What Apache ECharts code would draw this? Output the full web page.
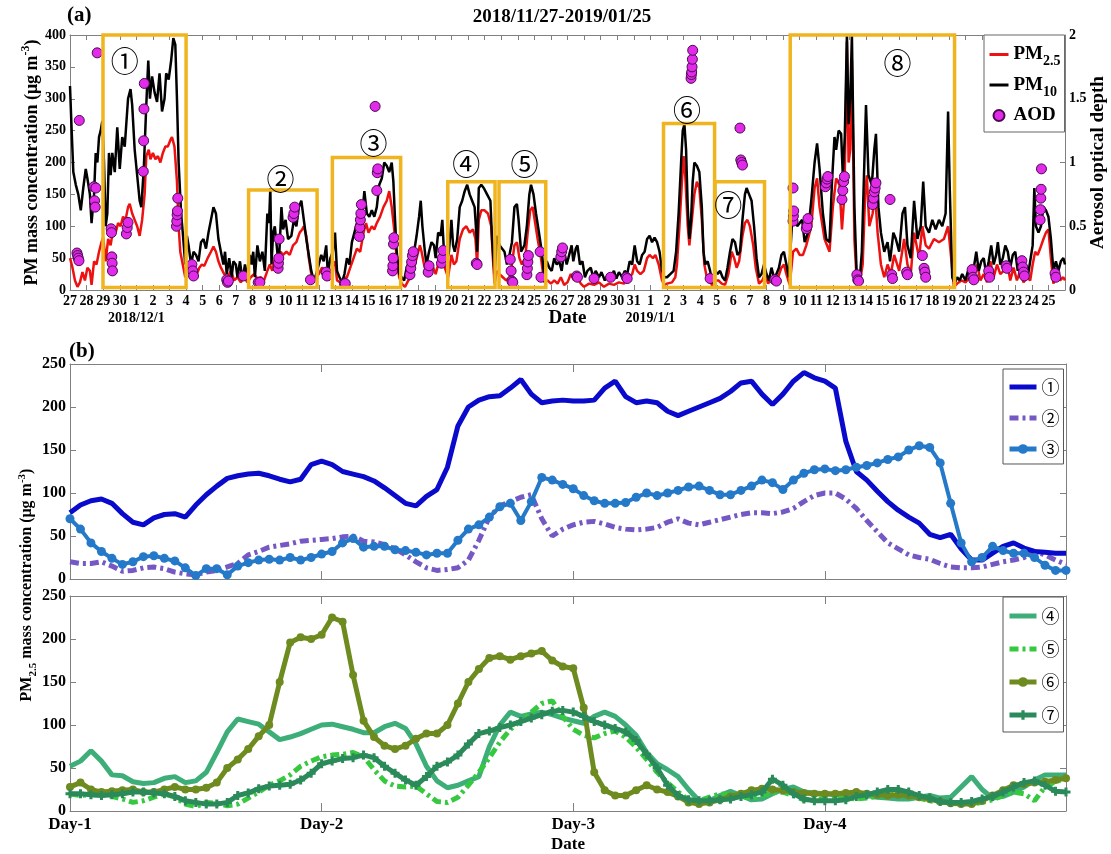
<!DOCTYPE html>
<html>
<head>
<meta charset="utf-8">
<title>PM and AOD episodes, 2018/11/27-2019/01/25</title>
<script src="https://cdn.jsdelivr.net/npm/echarts@6/dist/echarts.min.js"></script>
<style>
  html, body { margin: 0; padding: 0; background: #fff; }
  #chart { width: 1111px; height: 854px; }
</style>
</head>
<body>
<div id="chart"></div>
<script>
// ---------- Panel (a): hourly-resolved PM and AOD, x = days since 2018-11-27 00:00 ----------
const dateLabels = ['27','28','29','30',
  '1','2','3','4','5','6','7','8','9','10','11','12','13','14','15','16','17','18','19','20','21','22','23','24','25','26','27','28','29','30','31',
  '1','2','3','4','5','6','7','8','9','10','11','12','13','14','15','16','17','18','19','20','21','22','23','24','25'];
const monthMarks = { 4: '2018/12/1', 35: '2019/1/1' };

const pm10 = [[0,320],[0.1,250],[0.2,185],[0.35,165],[0.5,150],[0.65,125],[0.8,160],[0.95,190],[1.05,175],[1.2,150],[1.3,105],[1.45,150],[1.55,215],[1.65,200],[1.75,240],[1.85,250],[1.95,265],[2.05,200],[2.15,100],
  [2.25,120],[2.35,215],[2.45,180],[2.55,215],[2.7,185],[2.85,255],[3.0,190],[3.15,240],[3.3,225],[3.5,300],[3.65,315],[3.75,290],[3.9,220],[4.05,180],[4.2,140],[4.3,130],[4.45,190],[4.6,290],[4.72,360],[4.82,300],[4.95,335],[5.1,310],[5.25,295],[5.4,340],[5.55,280],[5.7,300],[5.8,340],[5.95,330],[6.1,360],[6.23,395],[6.35,385],[6.45,300],[6.55,200],[6.7,120],[6.8,90],[6.95,40],
  [7.05,85],[7.15,70],[7.3,40],[7.45,60],[7.6,55],[7.75,45],[7.9,75],[8.05,80],[8.2,65],[8.35,90],[8.5,110],[8.65,130],[8.8,120],[8.95,80],[9.1,60],[9.25,40],[9.35,60],[9.45,25],[9.6,50],[9.75,20],[9.85,45],[10.0,40],[10.1,20],[10.25,45],[10.4,15],[10.55,40],[10.7,20],[10.85,55],
  [10.95,40],[11.05,60],[11.15,20],[11.3,70],[11.45,45],[11.6,60],[11.75,30],[11.9,120],[12.0,105],[12.08,160],[12.15,40],[12.25,90],[12.35,100],[12.5,60],[12.6,45],[12.75,130],[12.85,95],[13.0,110],[13.15,80],[13.35,85],[13.5,110],[13.65,100],[13.8,130],[13.95,140],[14.1,110],[14.25,80],[14.4,55],[14.55,30],[14.7,15],[14.85,25],
  [15.0,40],[15.15,55],[15.3,45],[15.45,70],[15.55,25],[15.7,50],[15.85,60],[15.98,90],[16.1,30],[16.25,20],[16.4,12],[16.55,25],[16.7,50],[16.85,40],[17.0,75],[17.15,90],[17.3,105],[17.45,90],[17.6,110],[17.75,155],[17.9,120],[18.05,115],[18.2,125],[18.35,115],[18.5,130],[18.65,165],[18.8,175],[18.95,200],[19.1,195],[19.25,185],[19.4,200],[19.5,170],[19.6,110],[19.7,60],[19.85,25],
  [20.0,20],[20.15,15],[20.3,35],[20.45,45],[20.6,55],[20.75,60],[20.9,85],[21.05,115],[21.15,140],[21.25,100],[21.4,60],[21.5,40],[21.65,60],[21.8,75],[21.95,70],[22.05,50],[22.2,90],[22.35,85],[22.45,110],[22.55,60],[22.7,40],[22.85,60],
  [23.0,110],[23.1,70],[23.2,60],[23.35,80],[23.5,130],[23.65,140],[23.8,155],[23.95,165],[24.1,150],[24.25,140],[24.4,130],[24.5,90],[24.55,60],[24.65,160],[24.8,165],[24.95,160],[25.15,150],[25.35,140],[25.45,80],[25.6,25],
  [25.75,85],[25.9,70],[26.05,65],[26.2,60],[26.35,40],[26.5,55],[26.65,75],[26.8,130],[26.95,135],[27.05,110],[27.2,60],[27.4,70],[27.55,100],[27.7,150],[27.8,165],[27.95,150],[28.1,120],[28.25,95],[28.45,60],[28.6,20],
  [28.75,45],[28.9,35],[29.05,30],[29.2,50],[29.35,40],[29.5,45],[29.65,30],[29.8,60],[29.95,40],[30.1,55],[30.25,70],[30.35,45],[30.5,65],[30.6,70],[30.75,40],[30.9,45],[31.05,20],[31.2,30],[31.4,35],[31.55,20],[31.7,30],[31.9,20],[32.05,28],[32.25,15],[32.45,25],[32.6,20],[32.8,30],[32.95,18],[33.1,28],[33.3,20],[33.45,30],[33.6,25],[33.75,45],[33.9,40],[34.05,70],[34.2,45],[34.35,40],[34.5,55],[34.65,60],[34.8,80],[34.95,85],[35.1,75],[35.25,82],[35.4,75],[35.55,60],[35.7,30],[35.85,20],
  [36.0,20],[36.2,25],[36.4,30],[36.55,60],[36.7,120],[36.85,200],[36.95,250],[37.05,260],[37.15,220],[37.25,130],[37.35,80],[37.45,110],[37.55,170],[37.65,200],[37.8,195],[37.95,185],[38.1,130],[38.2,60],[38.3,40],[38.45,45],[38.6,30],[38.75,10],
  [38.9,30],[39.05,25],[39.2,30],[39.35,20],[39.5,15],[39.65,35],[39.8,60],[39.95,80],[40.1,75],[40.25,55],[40.4,60],[40.55,110],[40.7,150],[40.8,160],[40.95,150],[41.1,140],[41.25,100],[41.4,50],[41.55,20],[41.7,25],
  [41.85,40],[42.0,25],[42.15,15],[42.3,35],[42.45,20],[42.6,25],[42.75,35],[42.9,55],[43.05,60],[43.2,40],[43.35,20],
  [43.45,20],[43.55,110],[43.7,120],[43.85,100],[44.0,105],[44.15,110],[44.3,75],[44.5,90],[44.7,140],[44.9,200],[45.05,230],[45.2,190],[45.4,120],[45.6,80],[45.8,75],[45.95,170],[46.1,240],[46.2,220],[46.35,250],[46.5,245],[46.6,180],[46.72,240],[46.85,400],[46.95,260],[47.05,300],[47.15,400],[47.3,130],[47.45,15],[47.6,10],[47.75,60],[47.9,200],[48.0,290],[48.15,180],[48.35,165],[48.5,220],[48.6,245],[48.75,130],[48.9,90],[49.1,60],[49.3,75],[49.45,45],[49.65,90],[49.8,80],[50.0,60],[50.2,120],[50.35,130],[50.5,70],[50.7,50],[50.9,140],[51.1,80],[51.3,100],[51.45,170],[51.6,100],[51.8,90],[52.0,110],[52.2,95],[52.4,110],[52.6,100],[52.8,120],[52.95,280],[53.05,160],[53.2,20],[53.35,10],
  [53.5,20],[53.65,15],[53.8,25],[54.0,15],[54.15,30],[54.3,20],[54.5,35],[54.65,60],[54.8,30],[54.95,45],[55.1,50],[55.25,25],[55.4,45],[55.55,70],[55.7,40],[55.85,55],[55.95,75],[56.1,40],[56.25,50],[56.4,70],[56.55,60],[56.7,35],[56.85,55],[57.0,60],[57.15,30],[57.3,50],[57.45,25],[57.6,40],[57.75,20],[57.9,45],[58.05,70],[58.15,160],[58.25,100],[58.4,90],[58.55,100],[58.7,130],[58.85,125],[59.0,115],[59.15,80],[59.3,30],[59.45,45],[59.6,30],[59.75,45],[59.9,50],[60.0,40]];

const pm25 = [[0,50],[0.15,35],[0.3,15],[0.45,5],[0.6,12],[0.75,28],[0.9,15],[1.05,35],[1.2,30],[1.3,8],[1.45,45],[1.6,40],[1.75,60],[1.9,75],[2.0,82],[2.15,45],
  [2.3,80],[2.45,70],[2.6,95],[2.75,90],[2.9,105],[3.05,100],[3.2,115],[3.35,110],[3.5,130],[3.6,135],[3.75,120],[3.9,110],[4.05,100],[4.2,85],[4.35,110],[4.5,150],[4.6,210],[4.75,220],[4.85,205],[5.0,215],[5.15,205],[5.3,210],[5.45,200],[5.6,215],[5.75,225],[5.9,225],[6.05,235],[6.15,240],[6.3,225],[6.45,170],[6.55,100],[6.65,60],[6.8,40],[6.95,20],
  [7.05,45],[7.2,30],[7.35,25],[7.5,30],[7.65,25],[7.8,35],[7.95,40],[8.1,38],[8.3,50],[8.5,60],[8.65,68],[8.8,60],[8.95,45],[9.1,35],[9.3,25],[9.5,20],[9.7,30],[9.9,15],[10.1,20],[10.3,12],[10.5,20],[10.7,12],[10.9,20],
  [11.1,25],[11.3,18],[11.5,20],[11.7,15],[11.9,30],[12.05,40],[12.2,30],[12.35,50],[12.5,45],[12.7,60],[12.85,55],[13.05,60],[13.25,55],[13.45,70],[13.65,75],[13.85,90],[14.0,95],[14.1,100],[14.25,85],[14.4,50],[14.55,25],[14.7,15],[14.85,20],
  [15.0,25],[15.2,35],[15.4,30],[15.6,15],[15.8,35],[15.98,45],[16.1,15],[16.3,12],[16.5,18],[16.7,20],[16.9,35],[17.1,50],[17.3,65],[17.5,60],[17.7,90],[17.85,105],[18.0,90],[18.2,100],[18.35,95],[18.5,105],[18.7,115],[18.9,130],[19.1,140],[19.25,155],[19.4,130],[19.55,95],[19.7,50],[19.85,20],
  [20.0,10],[20.2,5],[20.4,15],[20.6,20],[20.8,40],[20.95,55],[21.1,70],[21.2,60],[21.35,40],[21.5,25],[21.7,30],[21.9,35],[22.05,25],[22.25,45],[22.45,55],[22.6,35],[22.8,20],
  [23.0,55],[23.15,40],[23.3,45],[23.5,80],[23.7,95],[23.9,100],[24.1,90],[24.3,95],[24.45,80],[24.55,40],[24.65,110],[24.8,125],[25.0,125],[25.2,120],[25.4,100],[25.5,50],[25.6,10],
  [25.75,30],[25.9,25],[26.1,20],[26.3,15],[26.5,20],[26.65,40],[26.8,70],[26.95,75],[27.1,50],[27.25,40],[27.45,50],[27.6,90],[27.75,125],[27.9,130],[28.05,105],[28.2,80],[28.4,50],[28.6,12],
  [28.8,15],[29.0,10],[29.2,15],[29.4,10],[29.6,20],[29.8,8],[30.0,12],[30.2,25],[30.4,15],[30.6,20],[30.8,10],[31.0,5],[31.3,10],[31.6,8],[31.9,12],[32.2,5],[32.5,10],[32.8,8],[33.1,12],[33.4,10],[33.7,20],[33.9,25],[34.05,40],[34.2,30],[34.4,25],[34.6,30],[34.8,50],[34.95,55],[35.15,50],[35.3,55],[35.5,40],[35.7,15],[35.85,8],
  [36.0,10],[36.3,12],[36.5,20],[36.6,40],[36.75,100],[36.9,170],[37.0,210],[37.1,180],[37.25,100],[37.35,70],[37.5,110],[37.65,150],[37.8,170],[37.95,160],[38.1,110],[38.25,40],[38.4,20],[38.6,15],[38.75,5],
  [38.9,15],[39.1,15],[39.3,10],[39.5,8],[39.7,25],[39.9,60],[40.05,50],[40.2,35],[40.35,45],[40.55,85],[40.7,105],[40.85,110],[41.0,100],[41.2,70],[41.35,35],[41.55,10],[41.75,15],
  [41.9,25],[42.1,10],[42.3,20],[42.5,12],[42.7,20],[42.9,35],[43.05,40],[43.2,25],[43.4,8],
  [43.5,10],[43.6,60],[43.8,65],[44.0,55],[44.2,55],[44.4,70],[44.7,100],[44.9,160],[45.05,175],[45.2,130],[45.5,80],[45.8,60],[46.0,130],[46.2,175],[46.4,165],[46.55,95],[46.7,150],[46.85,390],[46.95,200],[47.05,220],[47.15,360],[47.3,80],[47.45,10],[47.6,8],[47.8,40],[47.95,150],[48.05,180],[48.2,100],[48.4,120],[48.55,150],[48.7,90],[48.9,40],[49.1,20],[49.3,40],[49.5,25],[49.7,55],[50.0,30],[50.3,80],[50.5,40],[50.7,25],[50.9,90],[51.2,50],[51.4,100],[51.6,70],[51.8,65],[52.1,80],[52.4,75],[52.7,80],[52.95,100],[53.1,60],[53.3,5],
  [53.5,10],[53.75,15],[54.0,12],[54.25,20],[54.5,18],[54.7,40],[54.9,15],[55.1,25],[55.3,12],[55.5,45],[55.7,20],[55.9,40],[56.1,25],[56.3,30],[56.5,45],[56.7,15],[56.9,35],[57.1,15],[57.3,30],[57.5,12],[57.7,20],[57.9,15],[58.05,40],[58.2,60],[58.35,55],[58.5,65],[58.7,80],[58.85,90],[59.0,95],[59.15,50],[59.3,10],[59.5,25],[59.7,15],[59.9,20],[60.0,15]];

const aod = [[0.42,0.29],[0.46,0.27],[0.5,0.25],[0.54,0.23],[0.56,1.33],[1.44,0.81],[1.48,0.70],[1.52,0.65],[1.56,0.80],[1.64,1.86],
  [2.48,0.48],[2.5,0.45],[2.52,0.26],[2.54,0.21],[2.56,0.15],[3.4,0.44],[3.45,0.49],[3.5,0.53],
  [4.42,0.93],[4.44,1.17],[4.46,1.42],[4.48,1.62],[6.42,0.50],[6.44,0.54],[6.46,0.59],[6.48,0.62],[6.5,0.72],
  [7.35,0.2],[7.4,0.15],[7.45,0.11],[9.45,0.08],[9.5,0.06],[9.55,0.07],[10.45,0.11],[11.35,0.06],[11.45,0.06],
  [12.55,0.17],[12.57,0.21],[12.59,0.25],[12.61,0.4],[13.45,0.57],[13.5,0.6],[13.55,0.65],[14.5,0.08],
  [15.45,0.14],[15.5,0.11],[16.55,0.05],[16.6,0.05],[17.45,0.42],[17.48,0.49],[17.51,0.55],[17.54,0.6],[17.57,0.67],
  [18.4,1.44],[18.5,0.78],[18.53,0.92],[18.56,0.95],[19.45,0.15],[19.47,0.19],[19.49,0.25],[19.51,0.36],[19.53,0.41],
  [20.5,0.12],[20.55,0.17],[20.6,0.22],[20.65,0.27],[20.7,0.3],[21.6,0.14],[21.65,0.19],[22.4,0.21],[22.45,0.25],[22.5,0.31],
  [24.5,0.21],[24.55,0.2],[26.55,0.24],[26.6,0.15],[26.65,0.07],[26.7,0.06],[27.55,0.12],[27.58,0.17],[27.61,0.22],[27.64,0.27],
  [28.35,0.3],[28.4,0.1],[29.6,0.26],[29.65,0.3],[29.7,0.33],[30.55,0.11],[30.6,0.1],[31.6,0.09],[32.6,0.1],[33.55,0.1],[33.6,0.09],
  [37.45,1.66],[37.47,1.69],[37.49,1.71],[37.51,1.75],[37.53,1.81],[37.55,1.88],[38.6,0.09],
  [40.4,1.27],[40.45,1.02],[40.5,1.0],[40.55,0.98],[42.5,0.08],[42.6,0.07],
  [43.6,0.54],[43.62,0.58],[43.64,0.62],[43.6,0.8],[44.4,0.48],[44.45,0.5],[44.5,0.56],
  [45.55,0.81],[45.6,0.84],[45.65,0.87],[45.7,0.89],[46.55,0.71],[46.6,0.78],[46.65,0.85],[46.7,0.89],
  [47.45,0.12],[47.5,0.08],[47.55,0.07],[48.4,0.67],[48.45,0.72],[48.5,0.77],[48.55,0.8],[48.6,0.84],
  [49.45,0.71],[49.55,0.12],[49.6,0.09],[50.45,0.14],[50.5,0.12],[51.4,0.27],[51.5,0.17],[51.55,0.14],[51.6,0.1],
  [54.4,0.16],[54.45,0.1],[54.5,0.08],[55.4,0.15],[55.45,0.1],[56.45,0.19],[56.5,0.17],
  [57.4,0.23],[57.45,0.18],[57.5,0.14],[57.55,0.11],[58.5,0.55],[58.52,0.63],[58.54,0.72],[58.56,0.79],[58.58,0.95],
  [59.4,0.13],[59.45,0.1]];

// Pollution episodes: [start day, end day, top of box in µg/m³]
const episodes = [[1.99,7.0,400],[10.77,14.9,157],[15.82,19.94,208],[22.78,25.63,170],[25.87,28.69,170],[35.79,38.87,261],[38.9,41.88,170],[43.43,53.34,400]];
const episodeNames = ['①','②','③','④','⑤','⑥','⑦','⑧'];
const episodeTagAt = [[3.3,358],[12.7,173],[18.3,230],[23.9,197],[27.4,197],[37.2,282],[39.7,132],[49.9,356]];
const boxBase = 4;

// ---------- Panel (b): hourly PM2.5 during each episode (hour 0..95) ----------
const dayLabels = ['Day-1','Day-2','Day-3','Day-4'];
const ep1 = [77,86,91,93,88,76,66,63,71,75,76,72,86,98,108,117,120,122,123,120,116,113,116,133,
  137,133,125,122,119,114,106,97,88,85,96,104,130,178,200,208,212,213,222,232,215,205,207,208,
  207,207,208,222,230,212,205,207,205,195,190,195,200,205,210,218,228,230,215,203,215,230,240,234,
  230,222,160,125,115,102,90,80,72,65,52,48,52,35,22,22,30,38,42,36,32,31,30,30];
const ep2 = [20,18,18,20,15,9,10,13,14,12,8,6,5,8,10,14,18,28,32,37,39,41,44,45,
  46,47,49,50,44,43,40,35,28,20,13,10,11,13,22,45,72,85,90,95,98,70,50,58,
  63,66,67,64,60,58,57,58,60,66,70,65,63,66,69,72,75,77,77,76,78,82,90,97,
  100,100,93,82,68,55,42,35,28,25,23,18,14,13,13,14,17,20,22,25,32,28,22,17];
const ep3 = [70,58,42,32,24,17,20,26,27,24,21,13,4,12,12,5,15,19,22,23,22,25,22,25,
  29,32,42,47,37,38,38,34,33,31,28,30,30,45,58,63,72,84,88,68,90,118,115,110,
  105,97,91,88,88,89,95,100,97,100,103,107,108,103,98,98,103,108,115,112,104,115,123,127,
  128,126,127,130,132,135,139,142,150,155,153,135,88,42,20,25,38,33,30,30,25,16,10,10];
const ep4 = [52,58,70,58,42,41,34,32,33,38,40,33,35,45,68,92,107,104,101,92,83,86,90,95,
  100,101,98,95,91,91,98,102,96,78,52,35,27,30,35,40,75,100,115,110,113,115,112,108,
  105,102,110,115,110,100,88,68,55,48,40,25,12,12,18,23,18,13,14,20,25,28,22,21,
  20,19,18,20,18,16,15,14,14,16,18,15,16,28,40,25,15,17,22,28,36,42,42,42];
const ep5 = [20,18,19,19,17,14,10,12,16,20,16,8,5,10,9,6,8,15,22,30,35,42,52,58,
  63,65,66,68,63,48,35,29,28,29,20,11,10,16,30,45,62,80,95,105,115,125,128,110,
  95,88,85,90,93,86,74,60,45,33,22,13,12,16,20,19,17,15,18,21,22,18,13,13,
  15,18,15,14,15,17,19,20,19,15,12,10,10,9,8,10,13,18,22,20,12,28,34,38];
const ep6 = [28,33,25,22,23,24,25,22,22,25,28,25,25,27,33,50,60,72,87,100,150,196,202,200,
  205,225,220,158,105,86,76,72,76,84,90,90,100,125,150,165,178,180,176,180,183,186,175,168,
  166,120,45,24,18,18,24,30,25,22,17,10,8,10,13,17,20,24,26,25,24,22,21,20,
  20,20,21,22,20,19,18,19,18,16,14,11,9,8,8,12,18,24,30,31,33,34,36,38];
const ep7 = [20,20,19,18,19,20,22,22,21,20,17,12,10,8,8,10,18,21,26,29,30,31,36,44,
  55,58,61,62,65,62,52,44,36,30,40,52,57,65,78,90,93,97,100,104,108,112,116,117,
  115,110,104,100,96,92,82,66,50,30,18,13,12,12,13,14,17,19,22,37,30,20,14,12,
  12,12,13,17,19,22,25,25,22,18,15,11,10,10,11,14,17,22,28,33,35,30,23,22];

// ---------- styling ----------
const SERIF = '"Liberation Serif","Times New Roman",serif';
const CIRC = '"Noto Sans CJK SC","DejaVu Sans",sans-serif';
const FRAME = '#808080';
const GOLD = '#F0B41E';
const NO_MARK = { color: 'rgba(0,0,0,0)', borderWidth: 0, borderColor: 'rgba(0,0,0,0)' };
const hourly = arr => arr.map((v, i) => [i, v]);
const bold = (size, extra) => Object.assign({ fontFamily: SERIF, fontWeight: 'bold', fontSize: size, color: '#000' }, extra || {});

function frameX(gridIndex, position, min, max, interval, extra) {
  return Object.assign({
    type: 'value', gridIndex, position, min, max, interval,
    nameMoveOverlap: false,
    axisLine: { show: true, onZero: false, lineStyle: { color: FRAME, width: 1 } },
    axisTick: { show: true, inside: true, length: 5, lineStyle: { color: FRAME } },
    axisLabel: { show: false },
    splitLine: { show: false }
  }, extra || {});
}
function frameY(gridIndex, position, min, max, interval, extra) {
  return Object.assign({
    type: 'value', gridIndex, position, min, max, interval,
    nameMoveOverlap: false,
    axisLine: { show: true, onZero: false, lineStyle: { color: FRAME, width: 1 } },
    axisTick: { show: true, inside: true, length: 6, lineStyle: { color: FRAME } },
    axisLabel: { show: false },
    splitLine: { show: false }
  }, extra || {});
}

const chart = echarts.init(document.getElementById('chart'), null, { renderer: 'canvas' });

const option = {
  animation: false,
  backgroundColor: '#fff',
  grid: [
    { left: 70, top: 35, width: 995, height: 255, outerBoundsMode: 'none', containLabel: false },
    { left: 70, top: 364, width: 996, height: 215, outerBoundsMode: 'none', containLabel: false },
    { left: 70, top: 596, width: 996, height: 215, outerBoundsMode: 'none', containLabel: false }
  ],
  xAxis: [
    frameX(0, 'bottom', 0, 60, 1, {
      name: 'Date', nameLocation: 'middle', nameGap: 19,
      nameTextStyle: bold(19, { verticalAlign: 'top' }),
      axisLabel: {
        show: true, margin: 3, ...bold(14), lineHeight: 16,
        formatter: v => {
          const i = Math.round(v);
          if (i < 0 || i >= dateLabels.length) return '';
          return monthMarks[i] ? dateLabels[i] + '\n{m|' + monthMarks[i] + '}' : dateLabels[i];
        },
        rich: { m: bold(14, { lineHeight: 18 }) }
      }
    }),
    frameX(0, 'top', 0, 60, 1),
    frameX(1, 'bottom', 0, 95, 24, { axisTick: { show: true, inside: true, length: 8, lineStyle: { color: FRAME } } }),
    frameX(1, 'top', 0, 95, 24, { axisTick: { show: true, inside: true, length: 8, lineStyle: { color: FRAME } } }),
    frameX(2, 'bottom', 0, 95, 24, {
      axisTick: { show: true, inside: true, length: 8, lineStyle: { color: FRAME } },
      name: 'Date', nameLocation: 'middle', nameGap: 25,
      nameTextStyle: bold(17, { verticalAlign: 'top' }),
      axisLabel: {
        show: true, margin: 5, ...bold(17),
        formatter: v => (v % 24 === 0 && v / 24 < dayLabels.length) ? dayLabels[v / 24] : ''
      }
    }),
    frameX(2, 'top', 0, 95, 24, { axisTick: { show: true, inside: true, length: 8, lineStyle: { color: FRAME } } })
  ],
  yAxis: [
    frameY(0, 'left', 0, 400, 50, {
      axisTick: { show: true, inside: true, length: 5, lineStyle: { color: FRAME } },
      axisLabel: { show: true, margin: 4, ...bold(14) },
      name: '{a|PM mass concentration (μg m}{p|-3}{a|)}', nameLocation: 'middle', nameGap: 26, nameRotate: 90,
      nameTextStyle: { rich: { a: bold(18), p: bold(12, { padding: [0, 0, 12, 0] }) } }
    }),
    frameY(0, 'right', 0, 2, 0.5, {
      axisTick: { show: true, inside: true, length: 5, lineStyle: { color: FRAME } },
      axisLabel: { show: true, margin: 4, ...bold(14) },
      name: 'Aerosol optical depth', nameLocation: 'middle', nameGap: 24, nameRotate: 90,
      nameTextStyle: bold(19)
    }),
    frameY(1, 'left', 0, 250, 50, { axisLabel: { show: true, margin: 4, ...bold(16) } }),
    frameY(1, 'right', 0, 250, 50),
    frameY(2, 'left', 0, 250, 50, { axisLabel: { show: true, margin: 4, ...bold(16) } }),
    frameY(2, 'right', 0, 250, 50)
  ],
  legend: [
    {
      data: [
        { name: 'PM2.5', itemStyle: NO_MARK, lineStyle: { width: 3 } },
        { name: 'PM10', itemStyle: NO_MARK, lineStyle: { width: 3 } },
        { name: 'AOD', icon: 'circle' }
      ],
      orient: 'vertical', left: 984, top: 35,
      padding: [10, 4, 7, 4], itemGap: 7, itemWidth: 19, itemHeight: 11,
      backgroundColor: '#fff', borderColor: '#666', borderWidth: 1, borderRadius: 0,
      formatter: n => ({ 'PM2.5': '{m|PM}{s|2.5}', 'PM10': '{m|PM}{s|10}', 'AOD': '{m|AOD}' })[n],
      textStyle: { rich: { m: bold(19), s: bold(14, { padding: [14, 0, 0, 0] }) } }
    },
    {
      data: [
        { name: '①', itemStyle: NO_MARK, lineStyle: { width: 5 } },
        { name: '②', itemStyle: NO_MARK, lineStyle: { width: 5 } },
        { name: '③', lineStyle: { width: 5 } }
      ],
      orient: 'vertical', left: 1003, top: 369,
      padding: [9, 4, 6, 4], itemGap: 13, itemWidth: 27, itemHeight: 12,
      backgroundColor: '#fff', borderColor: '#555', borderWidth: 1, borderRadius: 0,
      textStyle: { fontFamily: CIRC, fontSize: 18, color: '#000' }
    },
    {
      data: [
        { name: '④', itemStyle: NO_MARK, lineStyle: { width: 5 } },
        { name: '⑤', itemStyle: NO_MARK, lineStyle: { width: 5 } },
        { name: '⑥', lineStyle: { width: 5 } },
        { name: '⑦', lineStyle: { width: 5 } }
      ],
      orient: 'vertical', left: 1003, top: 597,
      padding: [10, 4, 8, 4], itemGap: 15, itemWidth: 27, itemHeight: 12,
      backgroundColor: '#fff', borderColor: '#555', borderWidth: 1, borderRadius: 0,
      textStyle: { fontFamily: CIRC, fontSize: 18, color: '#000' }
    }
  ],
  graphic: [
    { type: 'text', x: 562, y: 17, style: { text: '2018/11/27-2019/01/25', font: 'bold 19px ' + SERIF, fill: '#000', align: 'center', verticalAlign: 'middle' } },
    { type: 'text', x: 67, y: 16, style: { text: '(a)', font: 'bold 21px ' + SERIF, fill: '#000', align: 'left', verticalAlign: 'middle' } },
    { type: 'text', x: 69, y: 352, style: { text: '(b)', font: 'bold 21px ' + SERIF, fill: '#000', align: 'left', verticalAlign: 'middle' } },
    {
      type: 'text', x: 27, y: 585, rotation: Math.PI / 2,
      style: {
        text: '{a|PM}{s|2.5}{a| mass concentration (μg m}{p|-3}{a|)}',
        align: 'center', verticalAlign: 'middle',
        rich: {
          a: { font: 'bold 16px ' + SERIF, fill: '#000' },
          s: { font: 'bold 11px ' + SERIF, fill: '#000', padding: [12, 0, 0, 0] },
          p: { font: 'bold 11px ' + SERIF, fill: '#000', padding: [0, 0, 10, 0] }
        }
      }
    }
  ],
  series: [
    {
      name: 'PM2.5', type: 'line', xAxisIndex: 0, yAxisIndex: 0, data: pm25,
      symbol: 'none', showSymbol: false, z: 2, clip: true,
      lineStyle: { color: '#EE1111', width: 2.5 }, itemStyle: { color: '#EE1111' }
    },
    {
      name: 'PM10', type: 'line', xAxisIndex: 0, yAxisIndex: 0, data: pm10,
      symbol: 'none', showSymbol: false, z: 3, clip: true,
      lineStyle: { color: '#000', width: 2.5 }, itemStyle: { color: '#000' }
    },
    {
      name: 'AOD', type: 'scatter', xAxisIndex: 0, yAxisIndex: 1, data: aod,
      symbol: 'circle', symbolSize: 10, z: 5,
      itemStyle: { color: '#E22BE8', borderColor: '#4A0A52', borderWidth: 1, opacity: 1 }
    },
    {
      type: 'custom', xAxisIndex: 0, yAxisIndex: 0, z: 6, silent: true,
      data: episodes.map((e, i) => [e[0], e[1], e[2], episodeTagAt[i][0], episodeTagAt[i][1]]),
      encode: { x: [0, 1, 3], y: [2, 4] },
      renderItem: (params, api) => {
        const a = api.coord([api.value(0), api.value(2)]);
        const b = api.coord([api.value(1), boxBase]);
        const t = api.coord([api.value(3), api.value(4)]);
        return {
          type: 'group', children: [
            { type: 'rect', shape: { x: a[0], y: a[1], width: b[0] - a[0], height: b[1] - a[1] },
              style: { fill: 'none', stroke: GOLD, lineWidth: 3.5 } },
            { type: 'text', x: t[0], y: t[1],
              style: { text: episodeNames[params.dataIndex], font: '28px ' + CIRC, fill: '#000', align: 'center', verticalAlign: 'middle' } }
          ]
        };
      }
    },
    // panel (b), upper: episodes 1-3
    { name: '①', type: 'line', xAxisIndex: 2, yAxisIndex: 2, data: hourly(ep1), symbol: 'none', z: 3,
      lineStyle: { color: '#0A0ACD', width: 5 }, itemStyle: { color: '#0A0ACD' } },
    { name: '②', type: 'line', xAxisIndex: 2, yAxisIndex: 2, data: hourly(ep2), symbol: 'none', z: 2,
      lineStyle: { color: '#7558C4', width: 5, type: [9, 4, 3, 4] }, itemStyle: { color: '#7558C4' } },
    { name: '③', type: 'line', xAxisIndex: 2, yAxisIndex: 2, data: hourly(ep3), symbol: 'circle', symbolSize: 9, z: 4,
      lineStyle: { color: '#2479C9', width: 4 }, itemStyle: { color: '#2479C9' } },
    // panel (b), lower: episodes 4-7
    { name: '④', type: 'line', xAxisIndex: 4, yAxisIndex: 4, data: hourly(ep4), symbol: 'none', z: 2,
      lineStyle: { color: '#3DAE78', width: 5 }, itemStyle: { color: '#3DAE78' } },
    { name: '⑤', type: 'line', xAxisIndex: 4, yAxisIndex: 4, data: hourly(ep5), symbol: 'none', z: 3,
      lineStyle: { color: '#36C83E', width: 5, type: [9, 4, 3, 4] }, itemStyle: { color: '#36C83E' } },
    { name: '⑥', type: 'line', xAxisIndex: 4, yAxisIndex: 4, data: hourly(ep6), symbol: 'circle', symbolSize: 8, z: 4,
      lineStyle: { color: '#6E8B1F', width: 5 }, itemStyle: { color: '#6E8B1F' } },
    { name: '⑦', type: 'line', xAxisIndex: 4, yAxisIndex: 4, data: hourly(ep7),
      symbol: 'path://M3,0H6V3H9V6H6V9H3V6H0V3H3Z', symbolSize: 9, z: 5,
      lineStyle: { color: '#2A8A5A', width: 5 }, itemStyle: { color: '#2A8A5A' } }
  ]
};

chart.setOption(option);
</script>
</body>
</html>
